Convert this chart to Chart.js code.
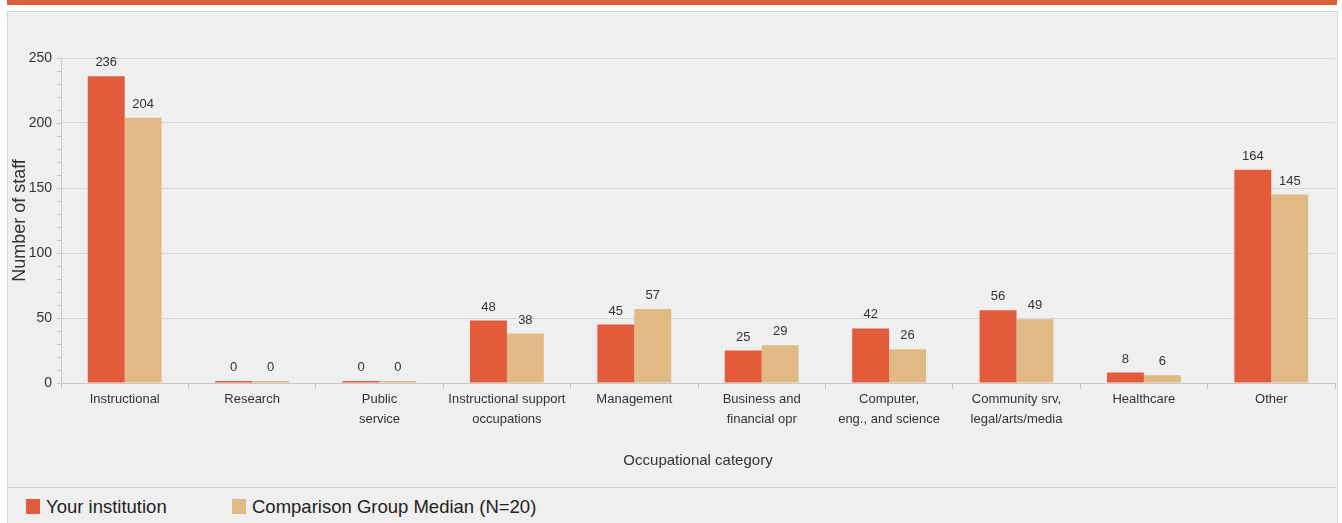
<!DOCTYPE html>
<html>
<head>
<meta charset="utf-8">
<script src="https://cdn.jsdelivr.net/npm/chart.js@4"></script>
<style>
  body { margin: 0; background: #fff; width: 1342px; height: 523px; overflow: hidden; position: relative; font-family: "Liberation Sans", Arial, sans-serif; }
  #topbar { position: absolute; left: 7px; top: 0; width: 1330px; height: 5px; background: #d9603b; }
  #panel { position: absolute; left: 7px; top: 11px; width: 1329px; height: 520px; background: #efefef; border: 1px solid #d6d6d6; }
  #wrap { position: absolute; left: 0; top: 0; width: 1342px; height: 487px; }
  #legend { position: absolute; left: 8px; top: 487px; width: 1328px; height: 36px; border-top: 1px solid #cfcfcf; }
  .item { position: absolute; top: 8px; font-size: 18.5px; color: #222; line-height: 22px; white-space: nowrap; }
  .box { display: inline-block; width: 14px; height: 15px; margin-right: 6px; vertical-align: -1px; }
</style>
</head>
<body>
<div id="topbar"></div>
<div id="panel"></div>
<div id="wrap"><canvas id="staff"></canvas></div>
<div id="legend"></div>
<script>
const categories = [
  'Instructional', 'Research', ['Public', 'service'], ['Instructional support', 'occupations'],
  'Management', ['Business and', 'financial opr'], ['Computer,', 'eng., and science'],
  ['Community srv,', 'legal/arts/media'], 'Healthcare', 'Other'
];
const yourInstitution = [236, 0, 0, 48, 45, 25, 42, 56, 8, 164];
const comparisonMedian = [204, 0, 0, 38, 57, 29, 26, 49, 6, 145];
const seriesNames = ['Your institution', 'Comparison Group Median (N=20)'];
const seriesColors = ['#e25c3b', '#e0b985'];

const sans = '"Liberation Sans", Arial, sans-serif';

const valueLabels = {
  id: 'valueLabels',
  afterDatasetsDraw(chart) {
    const ctx = chart.ctx;
    ctx.save();
    ctx.font = '13px ' + sans;
    ctx.fillStyle = '#333';
    ctx.textAlign = 'center';
    ctx.textBaseline = 'bottom';
    chart.data.datasets.forEach((ds, i) => {
      chart.getDatasetMeta(i).data.forEach((bar, j) => {
        ctx.fillText(ds.data[j], bar.x, bar.y - 7);
      });
    });
    ctx.restore();
  }
};

// small minor ticks on the left of the y axis
const minorTicks = {
  id: 'minorTicks',
  afterDraw(chart) {
    const y = chart.scales.y;
    const ctx = chart.ctx;
    ctx.save();
    ctx.strokeStyle = '#c8c8c8';
    ctx.lineWidth = 1;
    for (let v = 0; v <= 250; v += 10) {
      const py = Math.round(y.getPixelForValue(v)) + 0.5;
      ctx.beginPath();
      ctx.moveTo(y.right - 4, py);
      ctx.lineTo(y.right, py);
      ctx.stroke();
    }
    ctx.restore();
  }
};

new Chart(document.getElementById('staff'), {
  type: 'bar',
  data: {
    labels: categories,
    datasets: [
      { label: seriesNames[0], data: yourInstitution, backgroundColor: seriesColors[0] },
      { label: seriesNames[1], data: comparisonMedian, backgroundColor: seriesColors[1] }
    ]
  },
  options: {
    responsive: true,
    maintainAspectRatio: false,
    animation: false,
    layout: { padding: { left: 9, right: 7, top: 58, bottom: 8 } },
    datasets: { bar: { categoryPercentage: 0.58, barPercentage: 1, minBarLength: 2 } },
    plugins: { legend: { display: false }, tooltip: { enabled: false } },
    scales: {
      x: {
        grid: { offset: true, drawOnChartArea: false, drawTicks: true, tickLength: 6, color: '#c8c8c8' },
        border: { color: '#c8c8c8' },
        ticks: { color: '#333', font: { family: sans, size: 13, lineHeight: 1.5 }, padding: 1, maxRotation: 0, autoSkip: false },
        title: { display: true, text: 'Occupational category', color: '#333', font: { family: sans, size: 15 }, padding: { top: 0, bottom: 9 } },
        afterFit(scale) { scale.height = 96; }
      },
      y: {
        min: 0, max: 250,
        ticks: { stepSize: 50, color: '#333', font: { family: sans, size: 14 }, padding: 9 },
        grid: { color: '#d6d6d6', drawTicks: false },
        border: { color: '#c8c8c8' },
        title: { display: true, text: 'Number of staff', color: '#333', font: { family: sans, size: 18 }, padding: 0 },
        afterFit(scale) { scale.width = 52; }
      }
    }
  },
  plugins: [valueLabels, minorTicks]
});

const legend = document.getElementById('legend');
const legendX = [18, 224];
seriesNames.forEach((name, i) => {
  const item = document.createElement('div');
  item.className = 'item';
  item.style.left = legendX[i] + 'px';
  item.innerHTML = '<span class="box" style="background:' + seriesColors[i] + '"></span>' + name;
  legend.appendChild(item);
});
</script>
</body>
</html>
